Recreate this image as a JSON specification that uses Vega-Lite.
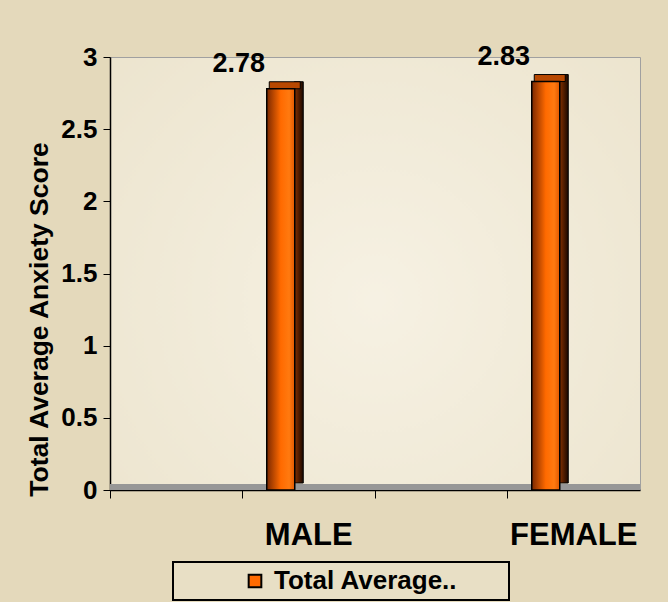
{
  "$schema": "https://vega.github.io/schema/vega-lite/v6.json",
  "width": 530,
  "height": 433,
  "autosize": {"type": "none"},
  "padding": {"left": 110, "top": 57, "right": 28, "bottom": 112},
  "background": "#e4d9bb",
  "config": {
    "view": {
      "fill": {
        "gradient": "radial",
        "x1": 0.5, "y1": 0.55, "r1": 0,
        "x2": 0.5, "y2": 0.55, "r2": 0.75,
        "stops": [
          {"offset": 0, "color": "#f6f1e3"},
          {"offset": 1, "color": "#ebe3cc"}
        ]
      },
      "stroke": "#a0a0a0",
      "strokeWidth": 1
    },
    "font": "Liberation Sans"
  },
  "data": {
    "values": [
      {"gender": "MALE", "score": 2.78, "series": "Total Average.."},
      {"gender": "FEMALE", "score": 2.83, "series": "Total Average.."}
    ]
  },
  "layer": [
    {
      "mark": {"type": "rule", "color": "#979797", "strokeWidth": 6, "yOffset": -3},
      "encoding": {
        "y": {
          "datum": 0,
          "type": "quantitative",
          "scale": {"domain": [0, 3]},
          "axis": {
            "title": "Total Average Anxiety Score",
            "titleFont": "Liberation Sans",
            "titleFontSize": 26.5,
            "titleFontWeight": "bold",
            "titleColor": "#000000",
            "titleX": -57,
            "titleY": 262,
            "values": [0, 0.5, 1, 1.5, 2, 2.5, 3],
            "format": "~g",
            "labelFont": "Liberation Sans",
            "labelFontSize": 26,
            "labelFontWeight": "bold",
            "labelColor": "#000000",
            "labelPadding": 6,
            "tickSize": 7,
            "tickColor": "#000000",
            "domainColor": "#000000",
            "domainWidth": 1.5,
            "gridColor": "#ffffff",
            "gridWidth": 2,
            "gridOpacity": 1
          }
        }
      }
    },
    {
      "encoding": {
        "x": {
          "field": "gender",
          "type": "nominal",
          "scale": {"domain": ["blank1", "MALE", "blank2", "FEMALE"], "paddingInner": 0, "paddingOuter": 0},
          "axis": {
            "title": null,
            "labelAngle": 0,
            "labelExpr": "indexof(datum.value, 'blank') === 0 ? '' : datum.value",
            "labelFont": "Liberation Sans",
            "labelFontSize": 31,
            "labelFontWeight": "bold",
            "labelColor": "#000000",
            "labelPadding": 22,
            "bandPosition": 0,
            "tickSize": 8,
            "tickColor": "#000000",
            "domainColor": "#000000",
            "domainWidth": 1.5,
            "grid": false
          }
        },
        "y": {"field": "score", "type": "quantitative"}
      },
      "layer": [
        {
          "mark": {
            "type": "bar", "width": 9, "xOffset": -10, "yOffset": -7,
            "stroke": "#000000", "strokeWidth": 1,
            "fill": {
              "gradient": "linear", "x1": 0, "y1": 0, "x2": 1, "y2": 0,
              "stops": [
                {"offset": 0, "color": "#8a3200"},
                {"offset": 1, "color": "#1a0800"}
              ]
            }
          }
        },
        {
          "mark": {
            "type": "tick", "orient": "horizontal", "thickness": 7, "size": 31, "xOffset": -24, "yOffset": -3.5,
            "stroke": "#000000", "strokeWidth": 1, "fill": "#b84800", "opacity": 1
          }
        },
        {
          "mark": {
            "type": "bar",
            "width": 28,
            "xOffset": -28,
            "stroke": "#000000",
            "strokeWidth": 1.5,
            "fill": {
              "gradient": "linear",
              "x1": 0, "y1": 0, "x2": 1, "y2": 0,
              "stops": [
                {"offset": 0, "color": "#7a2800"},
                {"offset": 0.5, "color": "#ff6a00"},
                {"offset": 0.8, "color": "#ff7a10"},
                {"offset": 1, "color": "#e05800"}
              ]
            }
          }
        },
        {
          "mark": {"type": "point", "opacity": 0, "filled": true},
          "encoding": {
            "fill": {
              "field": "series",
              "type": "nominal",
              "scale": {"range": ["#ff6a00"]},
              "legend": {
                "title": "\u00a0",
                "titleOrient": "right",
                "titlePadding": 46,
                "titleFontSize": 10,
                "orient": "none",
                "legendX": 63,
                "legendY": 505,
                "labelFont": "Liberation Sans",
                "labelFontSize": 26,
                "labelFontWeight": "bold",
                "labelColor": "#000000",
                "labelLimit": 400,
                "labelOffset": 6,
                "symbolType": "square",
                "symbolSize": 160,
                "symbolOffset": 63,
                "symbolOpacity": 1,
                "symbolStrokeColor": "#000000",
                "symbolStrokeWidth": 2,
                "strokeColor": "#000000",
                "padding": 6,
                "fillColor": "#e8dfc5",
                "encode": {"legend": {"update": {"strokeWidth": {"value": 2}}}}
              }
            }
          }
        },
        {
          "mark": {"type": "text", "font": "Liberation Sans", "fontSize": 27, "fontWeight": "bold", "color": "#000000", "xOffset": -70, "dy": -17, "baseline": "alphabetic"},
          "encoding": {"text": {"field": "score", "type": "quantitative", "format": ".2f"}}
        }
      ]
    }
  ]
}
